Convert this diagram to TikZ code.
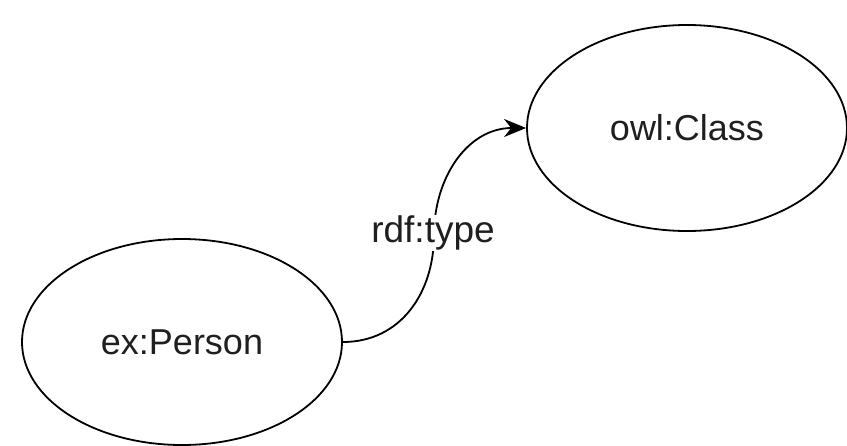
\documentclass[tikz,border=0pt]{standalone}
\usepackage{fontspec}
\setmainfont{Liberation Sans}
\usetikzlibrary{shapes.geometric,arrows.meta}
\begin{document}
\begin{tikzpicture}[x=1pt,y=-1pt,
  cls/.style={ellipse,draw=black,line width=1.8pt,minimum width=320pt,minimum height=206pt,inner sep=0pt,font=\fontsize{36}{40}\selectfont,text=black!88},
  rel/.style={line width=1.8pt,-{Stealth[length=22pt,width=18pt,inset=7pt]}},
  lbl/.style={fill=white,inner sep=1pt,font=\fontsize{37}{40}\selectfont,text=black!88}]
\useasboundingbox (0,0) rectangle (847,445);
\node[cls] (person) at (182,342) {ex:Person};
\node[cls] (owl) at (687,128) {owl:Class};
\coordinate (mid) at (434,235);
\draw[rel] (person.east) to[out=0,in=-90,looseness=1.05] (mid) to[out=90,in=180,looseness=1.05] (owl.west);
\node[lbl] (l) at (433,233) {rdf:type};
\end{tikzpicture}
\end{document}
